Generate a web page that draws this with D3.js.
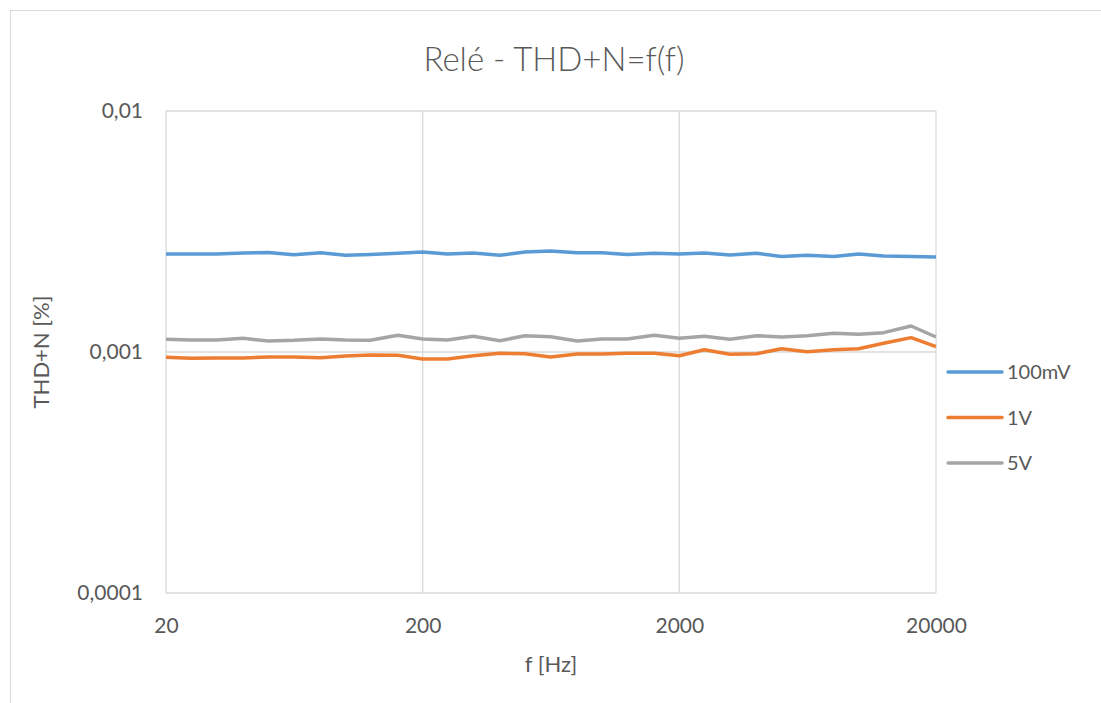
<!DOCTYPE html>
<html>
<head>
<meta charset="utf-8">
<script src="https://cdn.jsdelivr.net/npm/d3@7"></script>
<style>
  body { margin: 0; background: #fff; }
  svg { display: block; font-family: Lato, "Open Sans", sans-serif; }
</style>
</head>
<body>
<svg width="1101" height="703"></svg>
<script>
// 1/3-octave frequencies [Hz]
var freqs = [20, 25, 31.5, 40, 50, 63, 80, 100, 125, 160, 200, 250, 315, 400, 500, 630,
  800, 1000, 1250, 1600, 2000, 2500, 3150, 4000, 5000, 6300, 8000, 10000, 12500, 16000, 20000];

// THD+N [%]
var thd100mV = [0.00255, 0.00255, 0.00255, 0.002575, 0.00259, 0.00253, 0.00258, 0.00252, 0.00254, 0.00257,
  0.0026, 0.00255, 0.002575, 0.00252, 0.0026, 0.002625, 0.00258, 0.00258, 0.00254, 0.00257,
  0.00255, 0.002575, 0.002527, 0.00257, 0.00249, 0.00252, 0.00249, 0.00255, 0.0025, 0.00249, 0.00248];
var thd1V = [0.000951, 0.000941, 0.000944, 0.000944, 0.000954, 0.000954, 0.000947, 0.000962, 0.000972, 0.000969,
  0.000935, 0.000935, 0.000965, 0.000988, 0.000984, 0.000954, 0.000981, 0.000981, 0.000988, 0.000988,
  0.000965, 0.001022, 0.000978, 0.000984, 0.001032, 0.001003, 0.001022, 0.001032, 0.001087, 0.001147, 0.001052];
var thd5V = [0.001129, 0.001122, 0.001122, 0.00114, 0.001111, 0.001118, 0.001132, 0.001122, 0.001118, 0.001173,
  0.001132, 0.001122, 0.001162, 0.001114, 0.001168, 0.001157, 0.001111, 0.001132, 0.001132, 0.001173,
  0.00114, 0.001162, 0.001129, 0.001168, 0.001154, 0.001168, 0.001196, 0.001184, 0.001203, 0.001282, 0.001154];

var seriesNames = ["100mV", "1V", "5V"];
var colors = ["#5b9bd5", "#ed7d31", "#a5a5a5"];
var xTicks = [20, 200, 2000, 20000];
var yTicks = [0.0001, 0.001, 0.01];

var svg = d3.select("svg");
var margin = {left: 166, top: 111, right: 165, bottom: 110};
var width = 1101 - margin.left - margin.right,
    height = 703 - margin.top - margin.bottom;

// outer chart frame
svg.append("rect")
    .attr("x", 10.5).attr("y", 10.5)
    .attr("width", 1200).attr("height", 800)
    .attr("fill", "#fff").attr("stroke", "#d9d9d9");

var x = d3.scaleLog().domain([20, 20000]).range([0, width]);
var y = d3.scaleLog().domain([0.0001, 0.01]).range([height, 0]);

var g = svg.append("g").attr("transform", "translate(" + margin.left + "," + margin.top + ")");

var fmtY = function(d) { return String(d).replace(".", ","); };

// gridlines
g.selectAll(".vgrid").data(xTicks).enter().append("line")
    .attr("x1", function(d) { return x(d); }).attr("x2", function(d) { return x(d); })
    .attr("y1", 0).attr("y2", height)
    .attr("stroke", "#d9d9d9").attr("stroke-width", 1.3);
g.selectAll(".hgrid").data(yTicks).enter().append("line")
    .attr("x1", 0).attr("x2", width)
    .attr("y1", function(d) { return y(d); }).attr("y2", function(d) { return y(d); })
    .attr("stroke", "#d9d9d9").attr("stroke-width", 1.3);

// axes (labels only)
var xAxis = g.append("g").attr("transform", "translate(0," + height + ")")
    .call(d3.axisBottom(x).tickValues(xTicks).tickFormat(d3.format("d")).tickSize(0).tickPadding(25));
var yAxis = g.append("g")
    .call(d3.axisLeft(y).tickValues(yTicks).tickFormat(fmtY).tickSize(0).tickPadding(23));
[xAxis, yAxis].forEach(function(a) {
    a.select(".domain").remove();
    a.selectAll("text").attr("fill", "#595959").style("font-size", "21px").style("font-family", "Lato, sans-serif");
});

// series
var all = [thd100mV, thd1V, thd5V];
var line = d3.line()
    .x(function(d, i) { return x(freqs[i]); })
    .y(function(d) { return y(d); });

all.forEach(function(vals, k) {
    g.append("path")
        .datum(vals)
        .attr("fill", "none")
        .attr("stroke", colors[k])
        .attr("stroke-width", 3.5)
        .attr("stroke-linejoin", "round")
        .attr("d", line);
});

// title
svg.append("text")
    .attr("x", 554).attr("y", 71)
    .attr("text-anchor", "middle")
    .attr("fill", "#595959")
    .style("font-size", "33px").style("font-weight", 300)
    .text("Relé - THD+N=f(f)");

// axis titles
svg.append("text")
    .attr("x", margin.left + width / 2).attr("y", 672)
    .attr("text-anchor", "middle")
    .attr("fill", "#595959").style("font-size", "22px")
    .text("f [Hz]");
svg.append("text")
    .attr("transform", "translate(49," + (margin.top + height / 2) + ") rotate(-90)")
    .attr("text-anchor", "middle")
    .attr("fill", "#595959").style("font-size", "22px")
    .text("THD+N [%]");

// legend
var legend = svg.append("g").attr("transform", "translate(948,372)");
seriesNames.forEach(function(name, k) {
    var row = legend.append("g").attr("transform", "translate(0," + (k * 45.5) + ")");
    row.append("line")
        .attr("x1", 0).attr("x2", 54)
        .attr("stroke", colors[k]).attr("stroke-width", 3.5).attr("stroke-linecap", "round");
    row.append("text")
        .attr("x", 59).attr("y", 7)
        .attr("fill", "#595959").style("font-size", "20px")
        .text(name);
});
</script>
</body>
</html>
